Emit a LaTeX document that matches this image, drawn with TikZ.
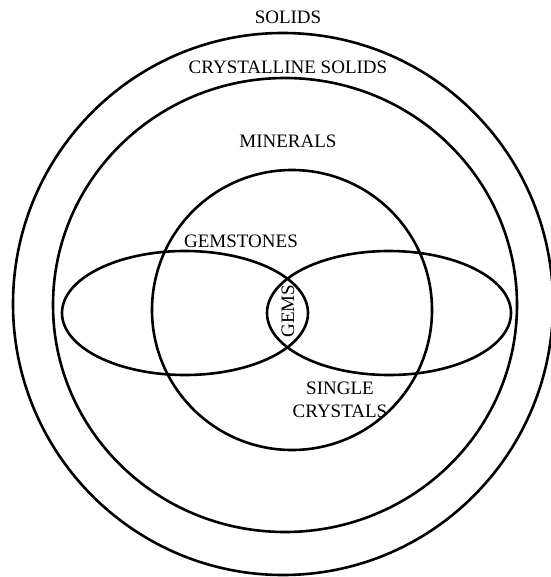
\documentclass[tikz,border=0pt]{standalone}
\usepackage{fontspec}
\setmainfont{Liberation Serif}
\tikzset{
  % outline of a set
  setline/.style={draw=black, line width=2.6pt},
  % set name
  setlabel/.style={font=\fontsize{19}{23}\selectfont, inner sep=0pt, align=center},
}

\begin{document}
\begin{tikzpicture}[x=1pt,y=-1pt]
  \useasboundingbox (0,0) rectangle (550,577);
  % centres of the sets
  \coordinate (solids) at (283,304);
  \coordinate (cryst) at (285,305);
  \coordinate (miner) at (292,310);
  \coordinate (gemst) at (185,313);
  \coordinate (single) at (389,313);
  % outlines
  \draw[setline] (solids) ellipse [x radius=270pt, y radius=271pt];
  \draw[setline] (cryst) ellipse [x radius=232pt, y radius=227pt];
  \draw[setline] (miner) circle [radius=140pt];
  \draw[setline] (gemst) ellipse [x radius=123pt, y radius=62pt];
  \draw[setline] (single) ellipse [x radius=122pt, y radius=62pt];
  % names
  \node[setlabel] (lSolids) at (288,17) {SOLIDS};
  \node[setlabel] (lCryst) at (288,67) {CRYSTALLINE SOLIDS};
  \node[setlabel] (lMiner) at (288,141) {MINERALS};
  \node[setlabel] (lGemst) at (241,241) {GEMSTONES};
  \node[setlabel, rotate=90] (lGems) at (288,311) {GEMS};
  \node[setlabel] (lSingle) at (340,400) {SINGLE\\CRYSTALS};
\end{tikzpicture}
\end{document}
